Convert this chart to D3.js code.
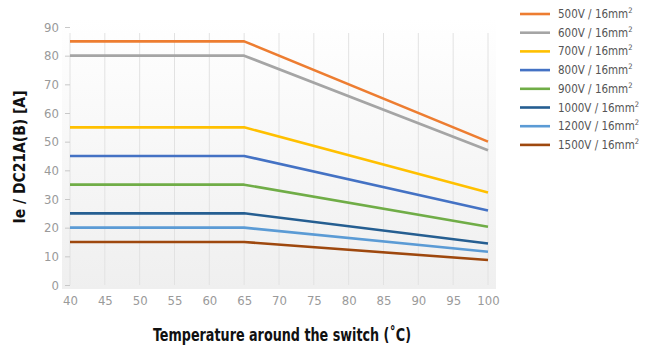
<!DOCTYPE html>
<html>
<head>
<meta charset="utf-8">
<script src="https://d3js.org/d3.v7.min.js"></script>
<style>
  body { margin: 0; background: #fff; }
  svg text { font-family: "Liberation Sans Narrow", "Arial Narrow", "DejaVu Sans Condensed", "Liberation Sans", sans-serif; }
</style>
</head>
<body>
<svg class="chart"></svg>
<script>
// data
var temps = [40, 65, 100];
var seriesNames = ["500V", "600V", "700V", "800V", "900V", "1000V", "1200V", "1500V"];
var seriesColors = ["#ED7D31", "#A5A5A5", "#FFC000", "#4472C4", "#70AD47", "#255E91", "#5B9BD5", "#9E480E"];
var v500  = [85, 85, 50];
var v600  = [80, 80, 47];
var v700  = [55, 55, 32.3];
var v800  = [45, 45, 26];
var v900  = [35, 35, 20.3];
var v1000 = [25, 25, 14.5];
var v1200 = [20, 20, 11.6];
var v1500 = [15, 15, 8.7];
var xTicks = [40, 45, 50, 55, 60, 65, 70, 75, 80, 85, 90, 95, 100];
var yTicks = [0, 10, 20, 30, 40, 50, 60, 70, 80, 90];

var allValues = [v500, v600, v700, v800, v900, v1000, v1200, v1500];

var W = 653, H = 349;
var margin = {top: 27, right: 165, bottom: 64, left: 70};
var width = W - margin.left - margin.right;
var height = H - margin.top - margin.bottom;

var svg = d3.select(".chart").attr("width", W).attr("height", H);

var defs = svg.append("defs");
var grad = defs.append("linearGradient").attr("id", "bg").attr("x1", 0).attr("y1", 0).attr("x2", 0).attr("y2", 1);
grad.append("stop").attr("offset", "0%").attr("stop-color", "#ffffff");
grad.append("stop").attr("offset", "100%").attr("stop-color", "#efefef");

var chart = svg.append("g").attr("transform", "translate(" + margin.left + "," + margin.top + ")");

var x = d3.scaleLinear().domain([40, 100]).range([0, width]);
var y = d3.scaleLinear().domain([0, 90]).range([height, 0]);

// plot background
chart.append("rect")
  .attr("x", -8).attr("y", -8)
  .attr("width", width + 16).attr("height", height + 12)
  .attr("fill", "url(#bg)");

// vertical grid
chart.append("g").selectAll("line").data(xTicks).enter().append("line")
  .attr("x1", function(d){ return x(d); }).attr("x2", function(d){ return x(d); })
  .attr("y1", y(90) + 6).attr("y2", height)
  .attr("stroke", "#e2e2e2").attr("stroke-width", 1);

// y axis
var yAxis = chart.append("g")
  .call(d3.axisLeft(y).tickValues(yTicks).tickSize(5).tickPadding(6));
yAxis.select(".domain").remove();
yAxis.selectAll("line").attr("stroke", "#c8c8c8");
yAxis.selectAll("text").attr("fill", "#9a9a9a").attr("font-size", "13px");

// x axis
var xAxis = chart.append("g")
  .attr("transform", "translate(0," + height + ")")
  .call(d3.axisBottom(x).tickValues(xTicks).tickSize(0).tickPadding(11));
xAxis.select(".domain").remove();
xAxis.selectAll("text").attr("fill", "#9a9a9a").attr("font-size", "13px");

// lines
var line = d3.line()
  .x(function(d, i){ return x(temps[i]); })
  .y(function(d){ return y(d); });

chart.selectAll(".series").data(allValues).enter().append("path")
  .attr("class", "series")
  .attr("d", function(d){ return line(d); })
  .attr("fill", "none")
  .attr("stroke", function(d, i){ return seriesColors[i]; })
  .attr("stroke-width", 2.6)
  .attr("stroke-linejoin", "round");

// axis titles
svg.append("text")
  .attr("transform", "translate(25," + 157 + ") rotate(-90)")
  .attr("text-anchor", "middle")
  .attr("font-size", "16px").attr("font-weight", "bold").attr("fill", "#111")
  .attr("textLength", 133).attr("lengthAdjust", "spacingAndGlyphs")
  .text("Ie / DC21A(B) [A]");

svg.append("text")
  .attr("x", 282).attr("y", 341)
  .attr("text-anchor", "middle")
  .attr("font-size", "17px").attr("font-weight", "bold").attr("fill", "#111")
  .attr("textLength", 258).attr("lengthAdjust", "spacingAndGlyphs")
  .text("Temperature around the switch (\u02DAC)");

// legend
var legend = svg.append("g").attr("transform", "translate(520,14)");
var item = legend.selectAll(".item").data(seriesNames).enter().append("g")
  .attr("transform", function(d, i){ return "translate(0," + (i * 18.7) + ")"; });
item.append("line")
  .attr("x1", 0).attr("x2", 30).attr("y1", 0).attr("y2", 0)
  .attr("stroke", function(d, i){ return seriesColors[i]; })
  .attr("stroke-width", 2.6);
var lt = item.append("text")
  .attr("x", 38).attr("y", 4)
  .attr("font-size", "11.5px").attr("fill", "#555");
lt.append("tspan").text(function(d){ return d + " / 16mm"; });
lt.append("tspan").attr("font-size", "7.5px").attr("dy", -5).text("2");
</script>
</body>
</html>
